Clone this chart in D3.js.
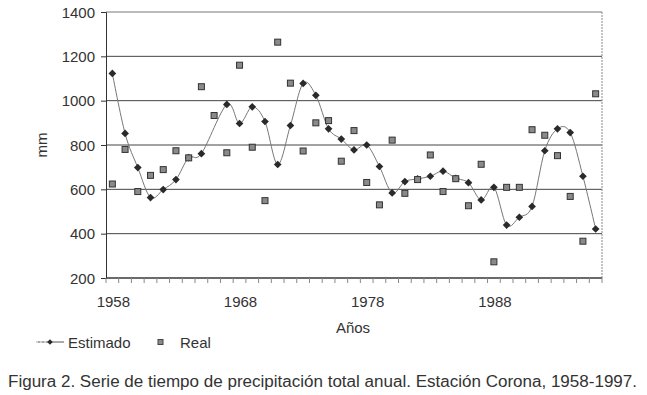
<!DOCTYPE html>
<html>
<head>
<meta charset="utf-8">
<script src="https://cdn.jsdelivr.net/npm/d3@7"></script>
<style>
  body { margin: 0; background: #fff; }
  svg { display: block; font-family: "Liberation Sans", Arial, sans-serif; }
</style>
</head>
<body>
<div id="chart"></div>
<script>
// Years on the category axis (39 categories)
const years = d3.range(1958, 1997);

// Estimated (smoothed) series, 1966 has no value
const estimado = [1123, 852, 698, 563, 599, 644, 743, 761, null, 983,
  897, 972, 906, 712, 888, 1078, 1024, 873, 827, 778,
  800, 703, 584, 635, 647, 659, 682, 650, 630, 552,
  609, 439, 474, 523, 774, 873, 856, 659, 421];

// Observed annual precipitation (mm)
const real = [624, 780, 590, 663, 689, 774, 742, 1063, 933, 765,
  1160, 790, 549, 1264, 1079, 773, 900, 910, 727, 865,
  631, 530, 822, 582, 644, 755, 590, 648, 526, 713,
  273, 609, 609, 869, 844, 752, 568, 366, 1031];

const yTicks = [200, 400, 600, 800, 1000, 1200, 1400];
const xLabels = [1958, 1968, 1978, 1988];

const width = 647;
const height = 395;
const plot = { left: 106, right: 602, top: 12, bottom: 278 };
const ink = "#333";

const svg = d3.select("#chart")
  .append("svg")
    .attr("width", width)
    .attr("height", height);

/*******************************/
/*    Scales                   */
/*******************************/
const xScale = d3.scalePoint()
  .domain(years)
  .range([plot.left, plot.right])
  .padding(0.5);

const yScale = d3.scaleLinear()
  .domain([200, 1400])
  .range([plot.bottom, plot.top]);

/*******************************/
/*    Grid and frame           */
/*******************************/
svg.append("g")
  .selectAll("line")
  .data(yTicks)
  .join("line")
    .attr("x1", plot.left)
    .attr("x2", plot.right)
    .attr("y1", d => yScale(d))
    .attr("y2", d => yScale(d))
    .attr("stroke", d => d === 1400 ? "#777" : "#444")
    .attr("stroke-width", 1);

// right border
svg.append("line")
  .attr("x1", plot.right).attr("x2", plot.right)
  .attr("y1", plot.top).attr("y2", plot.bottom)
  .attr("stroke", "#888")
  .attr("stroke-dasharray", "2,1");

/*******************************/
/*    Axes                     */
/*******************************/
const leftAxis = d3.axisLeft(yScale)
  .tickValues(yTicks)
  .tickFormat(d3.format("d"))
  .tickSize(5)
  .tickPadding(6);

const yAxis = svg.append("g")
  .attr("transform", `translate(${plot.left}, 0)`)
  .call(leftAxis);
yAxis.select(".domain").attr("stroke", ink);
yAxis.selectAll(".tick line").attr("stroke", ink);
yAxis.selectAll("text")
  .attr("font-size", "15px")
  .attr("fill", ink)
  .attr("dy", "0.35em");

// bottom axis line
svg.append("line")
  .attr("x1", plot.left).attr("x2", plot.right)
  .attr("y1", plot.bottom).attr("y2", plot.bottom)
  .attr("stroke", ink);

// ticks between categories
const step = xScale.step();
svg.append("g")
  .selectAll("line")
  .data(years.concat([1997]))
  .join("line")
    .attr("x1", d => d === 1997 ? plot.right : xScale(d) - step / 2)
    .attr("x2", d => d === 1997 ? plot.right : xScale(d) - step / 2)
    .attr("y1", plot.bottom)
    .attr("y2", plot.bottom + 5)
    .attr("stroke", "#888");

svg.append("g")
  .selectAll("text")
  .data(xLabels)
  .join("text")
    .text(d => d)
    .attr("x", d => xScale(d) + 1)
    .attr("y", 307)
    .attr("text-anchor", "middle")
    .attr("font-size", "15px")
    .attr("fill", ink);

// axis titles
svg.append("text")
  .text("Años")
  .attr("x", 353)
  .attr("y", 333)
  .attr("text-anchor", "middle")
  .attr("font-size", "15px")
  .attr("fill", ink);

svg.append("text")
  .text("mm")
  .attr("transform", `translate(47, 145) rotate(-90)`)
  .attr("text-anchor", "middle")
  .attr("font-size", "15px")
  .attr("fill", ink);

/*******************************/
/*    Series                   */
/*******************************/
const estPoints = years
  .map((y, i) => ({ year: y, value: estimado[i] }))
  .filter(d => d.value !== null);

const line = d3.line()
  .x(d => xScale(d.year))
  .y(d => yScale(d.value))
  .curve(d3.curveCardinal.tension(0));

svg.append("path")
  .datum(estPoints)
  .attr("d", line)
  .attr("fill", "none")
  .attr("stroke", "#777")
  .attr("stroke-width", 1);

const diamond = d3.symbol().type(d3.symbolDiamond2).size(38);

svg.append("g")
  .selectAll("path")
  .data(estPoints)
  .join("path")
    .attr("d", diamond)
    .attr("transform", d => `translate(${xScale(d.year)}, ${yScale(d.value)})`)
    .attr("fill", "#2a2a2a");

svg.append("g")
  .selectAll("rect")
  .data(years.map((y, i) => ({ year: y, value: real[i] })))
  .join("rect")
    .attr("x", d => xScale(d.year) - 3)
    .attr("y", d => yScale(d.value) - 3)
    .attr("width", 6)
    .attr("height", 6)
    .attr("fill", "#8a8a8a")
    .attr("stroke", "#333")
    .attr("stroke-width", 1);

/*******************************/
/*    Legend and caption       */
/*******************************/
const legend = svg.append("g").attr("transform", "translate(0, 342)");

legend.append("line")
  .attr("x1", 36).attr("x2", 64)
  .attr("y1", 0).attr("y2", 0)
  .attr("stroke", "#555");
legend.append("line")
  .attr("x1", 36).attr("x2", 46)
  .attr("y1", 0).attr("y2", 0)
  .attr("stroke", "#fff")
  .attr("stroke-dasharray", "2,2");
legend.append("path")
  .attr("d", d3.symbol().type(d3.symbolDiamond2).size(20))
  .attr("transform", "translate(50, 0)")
  .attr("fill", "#2a2a2a");
legend.append("text")
  .text("Estimado")
  .attr("x", 68)
  .attr("y", 5.5)
  .attr("font-size", "15px")
  .attr("fill", ink);
legend.append("rect")
  .attr("x", 158).attr("y", -2.5)
  .attr("width", 5).attr("height", 5)
  .attr("fill", "#8a8a8a")
  .attr("stroke", "#444");
legend.append("text")
  .text("Real")
  .attr("x", 180)
  .attr("y", 5.5)
  .attr("font-size", "15px")
  .attr("fill", ink);

svg.append("text")
  .text("Figura 2. Serie de tiempo de precipitación total anual. Estación Corona, 1958-1997.")
  .attr("x", 8)
  .attr("y", 387)
  .attr("textLength", 629)
  .attr("lengthAdjust", "spacingAndGlyphs")
  .attr("font-size", "16px")
  .attr("fill", ink);
</script>
</body>
</html>
